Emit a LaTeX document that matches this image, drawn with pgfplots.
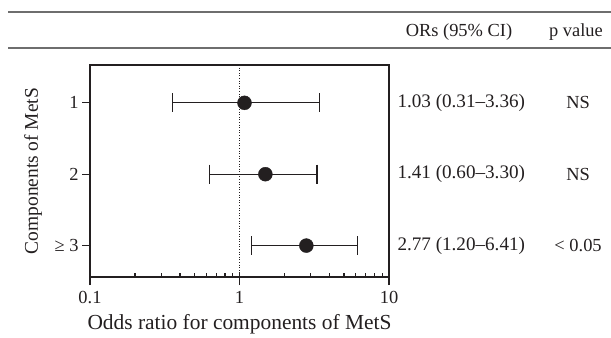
\documentclass[border=0pt]{standalone}
\usepackage{pgfplots}
\pgfplotsset{compat=1.18}
\usepackage{fontspec}
\setmainfont{Liberation Serif}
\definecolor{ink}{HTML}{231F20}
\definecolor{rule}{HTML}{6E6E6E}
\begin{document}
\begin{tikzpicture}[x=1bp,y=1bp,font=\fontsize{18.5}{22}\selectfont,text=ink]
\useasboundingbox (0,0) rectangle (611,337);
\draw[rule, line width=1.6bp] (8,325) -- (611,325);
\draw[rule, line width=1.6bp] (8,289) -- (611,289);
\node at (459,305) {ORs (95\% CI)};
\node at (576,305) {p value};
\begin{axis}[
  at={(90bp,60bp)}, anchor=south west,
  width=299bp, height=212bp, scale only axis,
  xmode=log, xmin=0.1, xmax=10,
  ymin=0.47, ymax=3.44, y dir=reverse,
  clip=false,
  axis line style={ink, line width=1.3bp},
  xtick={0.1,1,10}, xticklabels={0.1,1,10},
  ytick={1,2,3}, yticklabels={1,2,≥ 3},
  xtick pos=bottom, ytick pos=left,
  /pgf/number format/assume math mode=true,
  tick align=outside,
  tick style={ink, line width=1.1bp},
  major tick length=8bp, minor tick length=-4bp,
  tick label style={font=\fontsize{18.5}{22}\selectfont, text=ink},
  xticklabel style={yshift=-3bp},
  label style={text=ink},
  xlabel={Odds ratio for components of MetS},
  ylabel={Components of MetS},
  xlabel style={font=\fontsize{21.5}{25}\selectfont, at={(axis description cs:0.5,-0.223)}, anchor=center},
  ylabel style={font=\fontsize{19.5}{23}\selectfont, at={(axis description cs:-0.19,0.5)}, anchor=center},
]
\addplot[ink, dotted, line width=0.6bp] coordinates {(1,0.47) (1,3.44)};
% CI bars
\addplot[ink, line width=1.1bp, mark=|, mark size=9.5bp, mark options={solid}] coordinates {(0.356,1) (3.42,1)};
\addplot[ink, line width=1.1bp, mark=|, mark size=9.5bp, mark options={solid}] coordinates {(0.63,2) (3.30,2)};
\addplot[ink, line width=1.1bp, mark=|, mark size=9.5bp, mark options={solid}] coordinates {(1.20,3) (6.15,3)};
% point estimates
\addplot[only marks, mark=*, mark size=7bp, mark options={fill=ink, draw=ink}] coordinates {(1.08,1) (1.49,2) (2.80,3)};
% table text
\node[anchor=west, font=\fontsize{19.2}{23}\selectfont] at (axis cs:10.8,1) {1.03 (0.31–3.36)};
\node[anchor=west, font=\fontsize{19.2}{23}\selectfont] at (axis cs:10.8,2) {1.41 (0.60–3.30)};
\node[anchor=west, font=\fontsize{19.2}{23}\selectfont] at (axis cs:10.8,3) {2.77 (1.20–6.41)};
\node at (axis cs:184,1) {NS};
\node at (axis cs:184,2) {NS};
\node at (axis cs:184,3) {< 0.05};
\end{axis}
\end{tikzpicture}
\end{document}
